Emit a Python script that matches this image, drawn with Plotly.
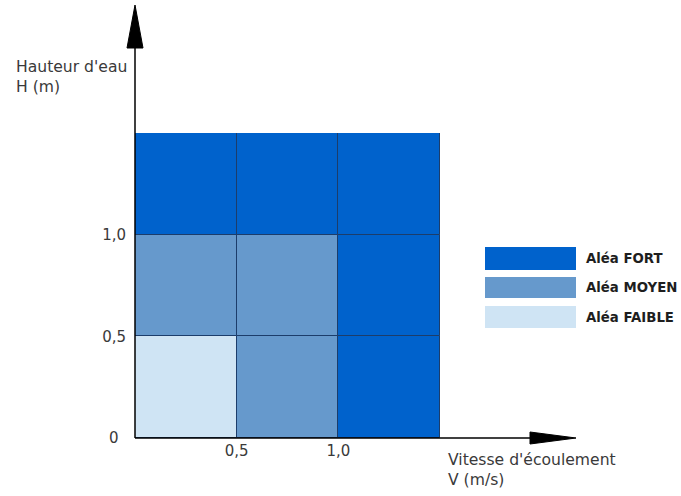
import plotly.graph_objects as go

# ---- data ----
v_centers = [0.25, 0.75, 1.25]          # vitesse (m/s), centre of each class
h_bases = [0.0, 0.5, 1.0]               # hauteur (m), base of each class
cell_size = 0.5
# hazard level per cell, rows from bottom (H 0-0.5) to top (H 1.0-1.5)
hazard_rows = [
    ["FAIBLE", "MOYEN", "FORT"],
    ["MOYEN", "MOYEN", "FORT"],
    ["FORT", "FORT", "FORT"],
]
hazard_levels = ["FORT", "MOYEN", "FAIBLE"]
hazard_labels = ["Aléa FORT", "Aléa MOYEN", "Aléa FAIBLE"]
hazard_colors = {"FORT": "#0062CC", "MOYEN": "#6699CC", "FAIBLE": "#CFE4F4"}

x_tickvals = [0.5, 1.0]
x_ticktext = ["0,5", "1,0"]
y_tickvals = [0.0, 0.5, 1.0]
y_ticktext = ["0\u2002", "0,5", "1,0"]

x_title = "Vitesse d'écoulement<br>V (m/s)"
y_title = "Hauteur d'eau<br>H (m)"

FONT = "DejaVu Sans"
TXT = "#3a3a3a"

fig = go.Figure()
for base, row in zip(h_bases, hazard_rows):
    fig.add_trace(go.Bar(
        x=v_centers,
        y=[cell_size] * len(v_centers),
        base=[base] * len(v_centers),
        width=cell_size,
        marker=dict(color=[hazard_colors[h] for h in row],
                    line=dict(color="#1c3d6b", width=1)),
        showlegend=False,
        hoverinfo="skip",
    ))

# plot area geometry (pixels): x 135..440, y 133..438
W, H = 681, 496
L, R, T, B = 135, 241, 133, 58
PW = W - L - R
PH = H - T - B

def px(x):
    return (x - L) / PW

def py(y):
    return (H - B - y) / PH

shapes = []
# axes with arrows
shapes.append(dict(type="line", xref="paper", yref="paper",
                   x0=0, y0=0, x1=0, y1=py(48),
                   line=dict(color="black", width=1.5)))
shapes.append(dict(type="path", xref="paper", yref="paper",
                   path=f"M {px(127)} {py(48)} L {px(135)} {py(5)} L {px(143)} {py(48)} Z",
                   fillcolor="black", line=dict(color="black", width=1)))
shapes.append(dict(type="line", xref="paper", yref="paper",
                   x0=0, y0=0, x1=px(530), y1=0,
                   line=dict(color="black", width=1.5)))
shapes.append(dict(type="path", xref="paper", yref="paper",
                   path=f"M {px(530)} {py(432)} L {px(576)} {py(438)} L {px(530)} {py(444)} Z",
                   fillcolor="black", line=dict(color="black", width=1)))

annotations = []
# legend (custom boxes)
leg_boxes = [(247, 270), (277, 298), (306, 328)]
for lvl, lab, (ya, yb) in zip(hazard_levels, hazard_labels, leg_boxes):
    shapes.append(dict(type="rect", xref="paper", yref="paper",
                       x0=px(485), x1=px(576), y0=py(yb), y1=py(ya),
                       fillcolor=hazard_colors[lvl], line=dict(width=0)))
    annotations.append(dict(xref="paper", yref="paper", x=px(584), y=py((ya + yb) / 2),
                            text=f"<b>{lab}</b>", showarrow=False,
                            xanchor="left", yanchor="middle",
                            font=dict(family=FONT, size=13.3, color="#1e1e1e")))

annotations.append(dict(xref="paper", yref="paper", x=px(14), y=py(77),
                        text=y_title, showarrow=False, xanchor="left", yanchor="middle",
                        align="left", font=dict(family=FONT, size=15.6, color=TXT)))
annotations.append(dict(xref="paper", yref="paper", x=px(446), y=py(470),
                        text=x_title, showarrow=False, xanchor="left", yanchor="middle",
                        align="left", font=dict(family=FONT, size=15.6, color=TXT)))

fig.update_layout(
    width=W, height=H,
    margin=dict(l=L, r=R, t=T, b=B, pad=0),
    paper_bgcolor="white", plot_bgcolor="white",
    barmode="overlay",
    bargap=0,
    shapes=shapes,
    annotations=annotations,
    font=dict(family=FONT, size=15, color=TXT),
    xaxis=dict(range=[0, 1.5], showgrid=False, zeroline=False, showline=False,
               tickvals=x_tickvals, ticktext=x_ticktext, ticks="",
               ticklabelstandoff=2, fixedrange=True),
    yaxis=dict(range=[0, 1.5], showgrid=False, zeroline=False, showline=False,
               tickvals=y_tickvals, ticktext=y_ticktext, ticks="",
               ticklabelstandoff=8, fixedrange=True),
)

fig.write_html(
    "out.html",
    config={"displayModeBar": False},
    post_script="document.body.style.margin='0';document.body.style.overflow='hidden';",
)
